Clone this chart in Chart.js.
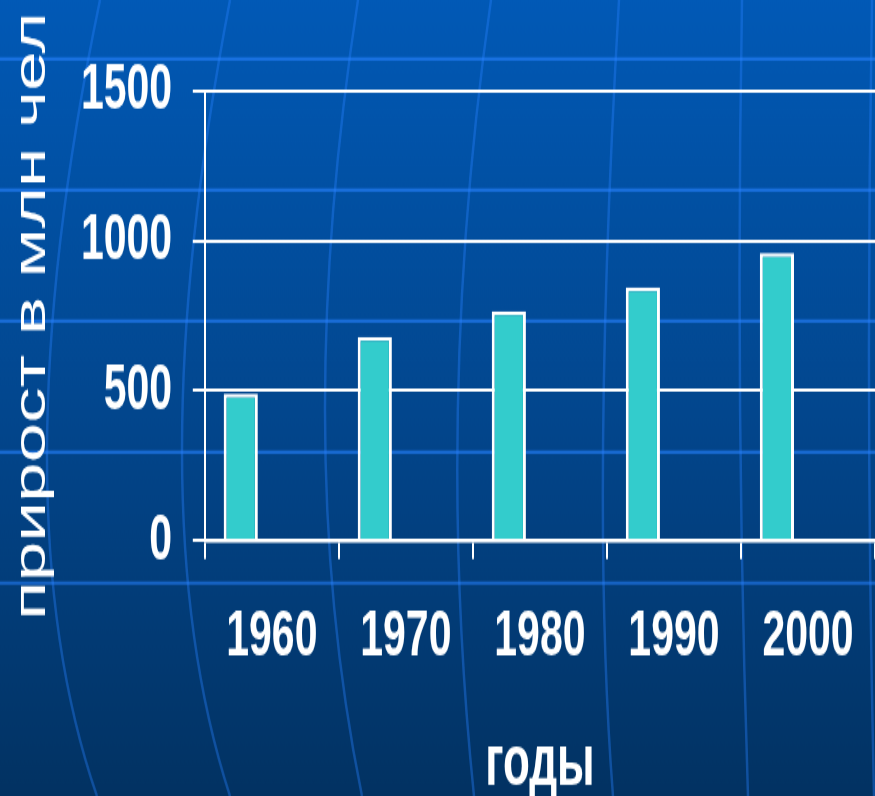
<!DOCTYPE html>
<html>
<head>
<meta charset="utf-8">
<script src="https://cdn.jsdelivr.net/npm/chart.js@4/dist/chart.umd.min.js"></script>
<style>
  html, body { margin: 0; padding: 0; background: #023466; overflow: hidden; }
</style>
</head>
<body>
<canvas id="chart" width="875" height="498" style="display:block;width:875px;height:796px"></canvas>
<script>
// данные: прирост населения по десятилетиям, млн чел
var years = ['1960', '1970', '1980', '1990', '2000'];
var growth = [490, 680, 765, 845, 960];
var emptySeries = [null, null, null, null, null];
var yTicks = [0, 500, 1000, 1500];

// the slide picture is stretched vertically, so the canvas is too
var STRETCH = 796 / 498;

var slideBackground = {
    id: 'slideBackground',
    beforeDraw: function (chart) {
        var ctx = chart.ctx;
        var w = chart.width;
        var h = 796;
        ctx.save();
        ctx.scale(1, 1 / STRETCH);

        var grad = ctx.createLinearGradient(0, 0, 0, h);
        grad.addColorStop(0, '#0159b6');
        grad.addColorStop(0.5, '#02478f');
        grad.addColorStop(1, '#023262');
        ctx.fillStyle = grad;
        ctx.fillRect(0, 0, w, h);

        // curved "globe" lines
        var curves = [
            [[100, 0], [47, 450], [97, 796]],
            [[230, 0], [182, 450], [230, 796]],
            [[358, 0], [325, 420], [362, 796]],
            [[491, 0], [458, 400], [474, 796]],
            [[619, 0], [603, 450], [613, 796]],
            [[742, 0], [740, 400], [748, 796]],
            [[872, 0], [869, 400], [874, 796]]
        ];
        ctx.strokeStyle = 'rgba(40, 130, 255, 0.38)';
        ctx.lineWidth = 2.5;
        curves.forEach(function (c) {
            var cx = 2 * c[1][0] - (c[0][0] + c[2][0]) / 2;
            var cy = 2 * c[1][1] - (c[0][1] + c[2][1]) / 2;
            ctx.beginPath();
            ctx.moveTo(c[0][0], c[0][1]);
            ctx.quadraticCurveTo(cx, cy, c[2][0], c[2][1]);
            ctx.stroke();
        });

        // horizontal lines
        ctx.strokeStyle = 'rgba(40, 130, 255, 0.60)';
        ctx.lineWidth = 3.5;
        [59, 190, 321, 452, 583].forEach(function (y) {
            ctx.beginPath();
            ctx.moveTo(0, y);
            ctx.lineTo(w, y);
            ctx.stroke();
        });
        ctx.restore();
    }
};

var font = "'Liberation Sans', Arial, sans-serif";

var config = {
    type: 'bar',
    data: {
        labels: years,
        datasets: [{
            label: 'прирост',
            data: growth,
            backgroundColor: '#33cccc',
            borderColor: '#ffffff',
            borderWidth: { top: 2.5, left: 3, right: 3, bottom: 0 },
            borderSkipped: 'bottom'
        }, {
            label: '',
            data: emptySeries,
            backgroundColor: '#33cccc'
        }]
    },
    options: {
        responsive: false,
        animation: false,
        devicePixelRatio: 1,
        datasets: {
            bar: {
                categoryPercentage: 0.9275,
                barPercentage: 0.55
            }
        },
        layout: {
            padding: { top: 57, left: 0, right: 0, bottom: 0 }
        },
        plugins: {
            legend: { display: false },
            tooltip: { enabled: false }
        },
        scales: {
            x: {
                offset: true,
                grid: {
                    offset: true,
                    drawOnChartArea: false,
                    color: '#ffffff',
                    lineWidth: 2,
                    tickLength: 11.6
                },
                border: { color: '#ffffff', width: 2.5 },
                ticks: {
                    color: '#ffffff',
                    padding: 20,
                    maxRotation: 0,
                    autoSkip: false,
                    font: { family: font, size: 41, weight: 'bold', lineHeight: 1.429 }
                },
                title: {
                    display: true,
                    text: 'годы',
                    color: '#ffffff',
                    font: { family: font, size: 44, weight: 'bold', lineHeight: 0.88 },
                    padding: { top: 10.9, bottom: 0 }
                }
            },
            y: {
                min: yTicks[0],
                max: yTicks[yTicks.length - 1],
                afterBuildTicks: function (scale) {
                    scale.ticks = yTicks.map(function (v) { return { value: v }; });
                },
                grid: {
                    color: '#ffffff',
                    lineWidth: 2,
                    tickLength: 12
                },
                border: { color: '#ffffff', width: 2 },
                ticks: {
                    color: '#ffffff',
                    padding: 20.7,
                    callback: function (value) { return String(value); },
                    font: { family: font, size: 41, weight: 'bold' }
                },
                title: {
                    display: true,
                    text: 'прирост в млн чел',
                    color: '#ffffff',
                    font: { family: font, size: 44.5, weight: 'normal', lineHeight: 1 },
                    padding: { top: 10, bottom: 5.7 }
                }
            }
        }
    },
    plugins: [slideBackground]
};

var ctx = document.getElementById('chart').getContext('2d');
var growthChart = new Chart(ctx, config);
</script>
</body>
</html>
